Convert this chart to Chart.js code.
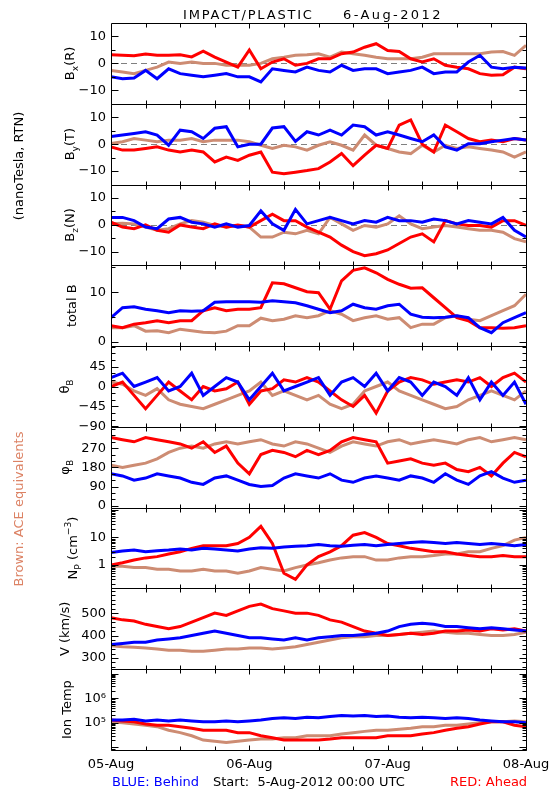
<!DOCTYPE html>
<html>
<head>
<meta charset="utf-8">
<script src="https://cdn.jsdelivr.net/npm/chart.js@4.4.1/dist/chart.umd.min.js"></script>
<style>
  html, body { margin: 0; padding: 0; background: #fff; }
  #wrap { width: 550px; height: 800px; }
</style>
</head>
<body>
<div id="wrap"><canvas id="myChart" width="550" height="800"></canvas></div>
<script>
// hours since 5-Aug-2012 00:00 UTC
const hours = [0, 2, 4, 6, 8, 10, 12, 14, 16, 18, 20, 22, 24, 26, 28, 30, 32, 34, 36,
  38, 40, 42, 44, 46, 48, 50, 52, 54, 56, 58, 60, 62, 64, 66, 68, 70, 72];
const dayTicks = [0, 24, 48, 72];
const dayLabels = ['05-Aug', '06-Aug', '07-Aug', '08-Aug'];

// B components (nT)
const bxAhead = [3.2, 3, 2.8, 3.5, 3, 3, 3.2, 2.4, 4.5, 2.3, 0.5, -1.4, 5, -2, 0.5, 1.7, -0.7,
  0, 1.7, 1.7, 3.6, 4.2, 6, 7.3, 4.8, 4.4, 1.7, 0.5, 1.7, -0.7, -1.4, -2, -3.8, -4.4, -4.2, -1.4, -2];
const bxBehind = [-5, -5.7, -5.4, -2.6, -5.7, -2, -3.8, -4.4, -5, -4.4, -3.8, -5, -5, -6.9, -2, -2.6, -3.2,
  -1.4, -2.6, -3.2, -0.7, -2.6, -2, -2, -3.8, -3.2, -2.6, -1.4, -3.8, -3.2, -3.2, 0.5, 3, -1.4, -2, -1.4, -1.7];
const bxAce = [-2.6, -3.2, -3.8, -2.6, -1.4, 0.5, 0, 0.5, 0, 0, -0.7, -0.7, -0.7, 0, 1.7, 2.3, 3,
  3.2, 3.6, 2.3, 4.2, 3.6, 3, 2.3, 1.7, 1.7, 1.7, 2.3, 3.6, 3.6, 3.6, 3.6, 3.6, 4.2, 4.4, 3, 6.7];

const byAhead = [-1, -2.2, -2.2, -1.6, -1, -2.2, -2.9, -2.2, -2.9, -6.6, -4.8, -6, -4.1, -2.9, -10.4, -11, -10.4,
  -9.8, -9.1, -6.6, -3.5, -8, -4.1, -0.4, -1.6, 7.1, 9, 0, -2.9, 7.1, 4.6, 2.1, 0.9, 1.5, 0.9, 2.1, 1.5];
const byBehind = [2.8, 3.4, 4, 4.6, 3.4, -0.4, 5.2, 4.6, 2.1, 5.9, 6.5, -1, 0, 0, 6, 6.5, 1,
  4.6, 3.4, 5.2, 3.4, 7.1, 6.5, 3.4, 4.6, 3.4, 2.1, 0.9, 3.4, -1, -2.2, 0.2, 0.2, 0.9, 1.5, 2.1, 1.5];
const byAce = [0.2, 0.9, 2.1, 1.5, 0.9, 1.5, 1.5, 2.1, 0.9, 1.5, 1.5, 1.5, 0.9, -0.4, -1.6, -0.4, -1,
  -2.2, -0.4, 0.9, -0.4, -2.2, 3.4, -0.4, -1.6, -2.9, -3.5, -0.4, -2.9, -0.4, -1.6, -1, -1.6, -2.2, -2.9, -4.8, -2.9];

const bzAhead = [1, -0.8, -1.4, 0, -2, -2.7, 0, -0.8, -1.4, 0.4, -0.8, 0, -0.8, 1.6, 4, 1.6, 1.6,
  -0.8, -2.7, -4.5, -7.5, -9.9, -11.4, -10.7, -9.3, -6.9, -4.5, -3.3, -6.3, 1.6, 0.4, -0.2, -0.2, -0.8, 1.6, 1.6, -0.2];
const bzBehind = [2.8, 2.8, 1.6, -0.8, -1.4, 2.2, 2.8, 1, 0.4, -0.8, 0.4, -0.8, -0.2, 5.2, 0.4, -2, 5.8,
  0.4, 1.6, 2.8, 1.6, 0.4, 1.6, 1, 2.8, 1.6, 1.6, 1, 2.2, 1.6, 0.4, 1.6, 1, 0.4, 2.8, -2, -4.5];
const bzAce = [0.4, 0.6, 0.4, -0.8, -2, -1.4, 0.4, 1.6, 1, -0.2, -0.8, -0.2, -0.8, -4.5, -4.5, -2.7, -3.3,
  -2, -3.3, 2.8, 0.4, -2, -0.2, -0.8, 0.4, 3.4, 0.4, -1.4, -0.8, -0.2, -0.8, -1.4, -2, -2, -2.7, -5.1, -6.3];

const btAhead = [3.3, 2.9, 3.6, 3.9, 4.3, 3.9, 4.3, 4.3, 6.3, 6.9, 6.3, 6.6, 6.6, 6.9, 11.9, 11.7, 10.9,
  10.1, 9.9, 6.6, 12.3, 14.4, 14.9, 13.9, 12.6, 11.6, 10.8, 10.9, 8.9, 6.9, 4.9, 4.3, 2.9, 2.9, 2.8, 2.9, 3.3];
const btBehind = [4.9, 6.9, 7.1, 6.6, 6.3, 5.9, 6.3, 6.2, 6.3, 8, 8.1, 8.1, 8.1, 8, 8.3, 8.1, 7.9,
  7.3, 6.6, 5.9, 6.3, 7.6, 6.9, 6.6, 7.3, 7.6, 5.6, 5, 4.9, 5, 5.3, 4.9, 2.9, 1.9, 3.9, 4.9, 5.9];
const btAce = [2.9, 2.9, 3.3, 2.2, 2.3, 1.9, 2.6, 2.3, 2, 1.9, 2.2, 3.3, 3.3, 4.8, 4.3, 4.6, 5.3,
  4.9, 5.3, 6.3, 5.6, 4.3, 4.9, 5.3, 4.6, 4.9, 2.9, 3.6, 3.6, 4.9, 5.3, 4.6, 4.3, 5.3, 6.3, 7.3, 9.6];

// field angles (deg)
const thAhead = [0, 10, -20, -50, -20, 10, -10, -30, 0, -10, -5, 10, -40, -10, -5, 15, 10,
  20, 10, -10, -30, -45, -20, -60, -10, 10, 20, 15, 5, 10, 15, 10, 20, 0, 20, 30, 10];
const thBehind = [20, 30, 0, 10, 20, -10, 0, 30, -20, 0, 20, 10, -30, 0, 30, -10, 0,
  10, 20, -20, 10, 20, 0, 30, -10, 20, 10, -20, 10, 0, -20, 20, -30, 10, -20, 10, -40];
const thAce = [10, 5, -10, -20, -5, -30, -40, -45, -50, -40, -30, -20, -10, 10, -20, -10, -20,
  -30, -20, -40, -50, -40, -10, 0, 10, -10, -20, -30, -40, -50, -45, -30, -20, -10, -20, -30, -10];

const phAhead = [320, 310, 300, 320, 310, 300, 290, 270, 300, 250, 280, 200, 150, 240, 260, 250, 230,
  260, 240, 260, 300, 320, 310, 300, 200, 210, 220, 200, 190, 200, 170, 160, 180, 140, 200, 250, 230];
const phBehind = [150, 140, 120, 130, 150, 140, 130, 110, 100, 130, 140, 120, 100, 90, 95, 130, 150,
  140, 130, 150, 120, 110, 130, 140, 130, 120, 140, 130, 110, 150, 120, 100, 140, 160, 130, 110, 120];
const phAce = [190, 180, 190, 200, 220, 250, 270, 280, 270, 290, 300, 290, 300, 310, 290, 280, 300,
  290, 270, 250, 280, 300, 290, 280, 300, 310, 290, 300, 310, 300, 290, 310, 320, 300, 310, 320, 310];

// proton density (cm^-3)
const npAhead = [1.0, 1.2, 1.5, 1.8, 2, 2.5, 3, 4, 5, 5, 5, 6, 10, 25, 6, 0.5, 0.3,
  1, 2, 3, 5, 12, 15, 10, 6, 5, 4, 3.5, 3, 3, 2.5, 2.2, 2, 2, 2.2, 2, 2];
const npBehind = [2.8, 3.2, 3.5, 3.0, 3.3, 3.5, 3.8, 3.5, 4, 3.8, 3.5, 3.2, 3.8, 4.2, 4, 4.5, 4.8,
  5, 5.5, 5, 4.8, 5.2, 5.5, 5, 5.5, 6, 6.5, 7, 6.5, 6, 6.5, 6, 5.5, 6, 5.5, 5, 5.5];
const npAce = [0.9, 0.9, 0.8, 0.8, 0.7, 0.7, 0.6, 0.6, 0.7, 0.6, 0.6, 0.5, 0.6, 0.8, 0.7, 0.6, 0.8,
  1, 1.2, 1.5, 1.8, 2, 2, 1.5, 1.5, 1.8, 2, 2, 2.2, 2.5, 2.5, 3, 3, 4, 5, 8, 10];

// bulk speed (km/s)
const vAhead = [480, 470, 465, 450, 440, 430, 440, 460, 480, 500, 490, 510, 530, 540, 520, 510, 500,
  500, 490, 470, 460, 440, 420, 410, 400, 405, 410, 405, 410, 420, 420, 425, 420, 430, 425, 430, 420];
const vBehind = [360, 365, 370, 370, 380, 385, 390, 400, 410, 420, 410, 400, 390, 390, 385, 380, 390,
  380, 390, 395, 400, 400, 405, 410, 420, 440, 450, 455, 450, 440, 440, 435, 430, 435, 430, 425, 420];
const vAce = [355, 350, 348, 345, 340, 335, 335, 330, 330, 335, 340, 340, 345, 345, 340, 345, 350,
  360, 370, 380, 390, 395, 395, 400, 400, 405, 410, 415, 420, 415, 410, 410, 405, 400, 400, 405, 415];

// ion temperature (K)
const tAhead = [1.3e5, 1.2e5, 1.1e5, 9e4, 8e4, 8e4, 7e4, 6e4, 5e4, 5e4, 5e4, 4e4, 4e4, 3e4, 2.5e4, 2e4, 2e4,
  2e4, 2e4, 2.2e4, 2.5e4, 2.5e4, 2.5e4, 2.5e4, 3e4, 3e4, 3e4, 3.5e4, 4e4, 5e4, 6e4, 7e4, 9e4, 1.1e5, 1.1e5, 8e4, 7e4];
const tBehind = [1.3e5, 1.3e5, 1.4e5, 1.2e5, 1.3e5, 1.2e5, 1.3e5, 1.2e5, 1.1e5, 1.1e5, 1.2e5, 1.1e5, 1.2e5, 1.3e5, 1.5e5, 1.6e5, 1.5e5,
  1.7e5, 1.6e5, 1.8e5, 2.0e5, 1.9e5, 2.0e5, 1.8e5, 1.9e5, 1.7e5, 1.6e5, 1.7e5, 1.6e5, 1.5e5, 1.6e5, 1.5e5, 1.3e5, 1.2e5, 1.1e5, 1.1e5, 1.0e5];
const tAce = [1.1e5, 1.0e5, 9e4, 8e4, 7e4, 5e4, 4e4, 3e4, 2e4, 1.8e4, 1.6e4, 1.8e4, 2e4, 2.2e4, 2.2e4, 2.5e4, 2.5e4,
  3e4, 3e4, 3e4, 3.5e4, 4e4, 4.5e4, 5e4, 5e4, 5.5e4, 6e4, 7e4, 7e4, 8e4, 8e4, 9e4, 1e5, 1.1e5, 1.1e5, 1.2e5, 1.1e5];

const RED = '#ff0000';
const BLUE = '#0000ff';
const BROWN = 'rgb(205,140,115)';
const FONT = 'DejaVu Sans';

// one entry per stacked panel, top to bottom
const panels = [
  { id: 'yBx', min: -15, max: 15, major: [-10, 0, 10], minor: 5, zero: true,
    title: [['B'], ['x', 1], ['(R)']], tx: 71, data: [bxBehind, bxAhead, bxAce] },
  { id: 'yBy', min: -15, max: 15, major: [-10, 0, 10], minor: 5, zero: true,
    title: [['B'], ['y', 1], ['(T)']], tx: 71, data: [byBehind, byAhead, byAce] },
  { id: 'yBz', min: -15, max: 15, major: [-10, 0, 10], minor: 5, zero: true,
    title: [['B'], ['z', 1], ['(N)']], tx: 71, data: [bzBehind, bzAhead, bzAce] },
  { id: 'yBt', min: -0.8, max: 15.4, major: [0, 10], minor: 5,
    title: [['total B']], tx: 73, data: [btBehind, btAhead, btAce] },
  { id: 'yTh', min: -91, max: 91, major: [-90, -45, 0, 45], minor: 15,
    title: [['θ'], ['B', 1]], tx: 66, data: [thBehind, thAhead, thAce] },
  { id: 'yPh', min: -9, max: 370, major: [0, 90, 180, 270], minor: 30,
    title: [['φ'], ['B', 1]], tx: 66, data: [phBehind, phAhead, phAce] },
  { id: 'yNp', type: 'logarithmic', min: 0.14, max: 120, major: [1, 10],
    title: [['N'], ['P', 1], [' (cm'], ['−3', 2], [')']], tx: 74, data: [npBehind, npAhead, npAce] },
  { id: 'yV', min: 250, max: 610, major: [300, 400, 500], minor: 20,
    title: [['V (km/s)']], tx: 66, data: [vBehind, vAhead, vAce] },
  { id: 'yT', type: 'logarithmic', min: 7900, max: 1.5e7, major: [1e5, 1e6],
    labels: ['10⁵', '10⁶'], title: [['Ion Temp']], tx: 68, data: [tBehind, tAhead, tAce] }
];

function pts(vals) {
  return hours.map((h, i) => ({ x: h, y: vals[i] }));
}

const colors = [BLUE, RED, BROWN];
const datasets = [];
const scales = {
  x: {
    type: 'linear', position: 'bottom', min: 0, max: 72,
    grid: { display: false }, border: { display: false },
    ticks: { display: false },
    afterFit: s => { s.height = 50; }
  }
};

panels.forEach((p, k) => {
  p.data.forEach((vals, j) => {
    datasets.push({
      data: pts(vals), xAxisID: 'x', yAxisID: p.id,
      borderColor: colors[j], backgroundColor: colors[j],
      borderWidth: 3, pointRadius: 0, tension: 0
    });
  });
  scales[p.id] = {
    type: p.type || 'linear', position: 'left', stack: 'panels', stackWeight: 1,
    weight: panels.length - k, offset: false, min: p.min, max: p.max,
    grid: { display: false, drawTicks: false }, border: { display: false },
    afterBuildTicks: s => { s.ticks = p.major.map(v => ({ value: v })); },
    afterFit: s => { s.width = 111; },
    ticks: {
      autoSkip: false, padding: 5, color: '#000',
      font: { family: FONT, size: 13 },
      callback: v => {
        if (p.labels) return p.labels[p.major.indexOf(v)];
        return v < 0 ? '\u2212' + Math.abs(v) : String(v);
      }
    }
  };
});

function minorValues(p) {
  const out = [];
  if (p.type === 'logarithmic') {
    for (let d = Math.floor(Math.log10(p.min)); d <= Math.ceil(Math.log10(p.max)); d++) {
      for (let m = 1; m < 10; m++) {
        const v = m * Math.pow(10, d);
        if (v > p.min && v < p.max) out.push([v, m === 1]);
      }
    }
  } else {
    const start = Math.ceil(p.min / p.minor) * p.minor;
    for (let v = start; v < p.max; v += p.minor) out.push([v, p.major.includes(v)]);
  }
  return out;
}

function richText(ctx, parts, x, y, size, color) {
  ctx.save();
  ctx.translate(x, y);
  ctx.rotate(-Math.PI / 2);
  ctx.fillStyle = color || '#000';
  ctx.textBaseline = 'middle';
  ctx.textAlign = 'left';
  let w = 0;
  parts.forEach(q => {
    ctx.font = (q[1] ? size * 0.7 : size) + 'px ' + FONT;
    w += ctx.measureText(q[0]).width;
  });
  let cx = -w / 2;
  parts.forEach(q => {
    ctx.font = (q[1] ? size * 0.7 : size) + 'px ' + FONT;
    const dy = q[1] === 1 ? size * 0.35 : q[1] === 2 ? -size * 0.4 : 0;
    ctx.fillText(q[0], cx, dy);
    cx += ctx.measureText(q[0]).width;
  });
  ctx.restore();
}

const panelFrames = {
  id: 'panelFrames',
  beforeDatasetsDraw(chart) {
    const { ctx } = chart;
    const xs = chart.scales.x;
    ctx.save();
    ctx.strokeStyle = 'rgb(128,128,128)';
    ctx.lineWidth = 1;
    ctx.setLineDash([6, 4]);
    panels.filter(p => p.zero).forEach(p => {
      const y = Math.round(chart.scales[p.id].getPixelForValue(0)) + 0.5;
      ctx.beginPath();
      ctx.moveTo(xs.left, y);
      ctx.lineTo(xs.right, y);
      ctx.stroke();
    });
    ctx.restore();
  },
  afterDatasetsDraw(chart) {
    const { ctx } = chart;
    const xs = chart.scales.x;
    const L = Math.round(xs.left) + 0.5;
    const R = Math.round(xs.right) + 0.5;
    ctx.save();
    ctx.strokeStyle = '#000';
    ctx.lineWidth = 1;
    panels.forEach(p => {
      const s = chart.scales[p.id];
      const T = Math.round(s.top) + 0.5;
      const B = Math.round(s.bottom) + 0.5;
      ctx.beginPath();
      ctx.rect(L, T, R - L, B - T);
      // y ticks, inward on both sides
      minorValues(p).forEach(([v, big]) => {
        const y = Math.round(s.getPixelForValue(v)) + 0.5;
        const len = big ? 7 : 4;
        ctx.moveTo(L, y); ctx.lineTo(L + len, y);
        ctx.moveTo(R, y); ctx.lineTo(R - len, y);
      });
      // x ticks every 6 h, inward at top and bottom
      for (let h = 6; h < 72; h += 6) {
        const x = Math.round(xs.getPixelForValue(h)) + 0.5;
        const len = h % 24 === 0 ? 5 : 4;
        ctx.moveTo(x, T); ctx.lineTo(x, T + len);
        ctx.moveTo(x, B); ctx.lineTo(x, B - len);
      }
      ctx.stroke();
    });
    ctx.restore();
  },
  afterDraw(chart) {
    const { ctx } = chart;
    const xs = chart.scales.x;
    ctx.save();
    ctx.fillStyle = '#000';
    ctx.textBaseline = 'middle';
    // title
    ctx.font = '13px ' + FONT;
    ctx.textAlign = 'left';
    ctx.letterSpacing = '1.8px';
    ctx.fillText('IMPACT/PLASTIC', 183, 16);
    ctx.letterSpacing = '2.4px';
    ctx.fillText('6-Aug-2012', 343, 16);
    ctx.letterSpacing = '0px';
    // day labels under the bottom panel
    ctx.textAlign = 'center';
    dayTicks.forEach((h, i) => {
      ctx.fillText(dayLabels[i], xs.getPixelForValue(h), 765);
    });
    // footer
    ctx.textAlign = 'left';
    ctx.fillStyle = BLUE;
    ctx.fillText('BLUE: Behind', 112, 783);
    ctx.fillStyle = '#000';
    ctx.fillText('Start:  5-Aug-2012 00:00 UTC', 213, 783);
    ctx.fillStyle = RED;
    ctx.fillText('RED: Ahead', 450, 783);
    ctx.restore();
    // panel titles
    panels.forEach(p => {
      const s = chart.scales[p.id];
      richText(ctx, p.title, p.tx, (s.top + s.bottom) / 2, 13);
    });
    richText(ctx, [['(nanoTesla, RTN)']], 20, 166, 13);
    richText(ctx, [['Brown: ACE equivalents']], 20, 509, 13, 'rgb(220,130,100)');
  }
};

const config = {
  type: 'line',
  data: { datasets },
  options: {
    responsive: false,
    animation: false,
    layout: { padding: { top: 23, right: 24, left: 0, bottom: 0 } },
    plugins: { legend: { display: false }, tooltip: { enabled: false } },
    scales
  },
  plugins: [panelFrames]
};

const myChart = new Chart(document.getElementById('myChart'), config);
</script>
</body>
</html>
